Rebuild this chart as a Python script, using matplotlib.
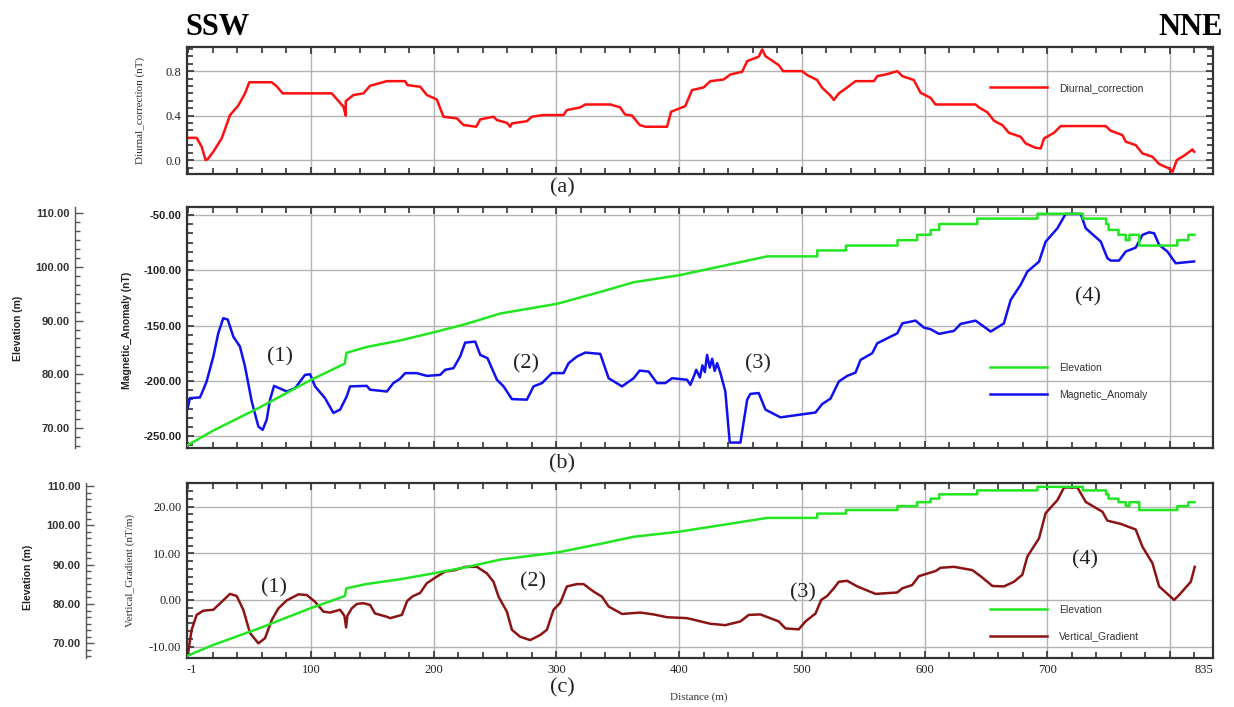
import matplotlib.pyplot as plt
from matplotlib.ticker import MultipleLocator, AutoMinorLocator, FixedLocator

SERIF = 'Liberation Serif'
SANS = 'Liberation Sans'

# distance axis
dist_ticks = [-1, 100, 200, 300, 400, 500, 600, 700, 800, 835]
dist_labels = ['-1', '100', '200', '300', '400', '500', '600', '700', '', '835']

# (a) diurnal correction (nT)
diurnal_dist = [-1, 6.9, 11, 14.2, 16, 20.5, 27.3, 34.1, 40.8, 46.3, 49.8, 68, 72, 77, 117,
                126.5, 128.4, 128.4, 134.6, 142.8, 148.2, 161.9, 176.8, 178.7, 189, 194.5,
                202.6, 208, 219, 224.4, 234.7, 238, 248.8, 251.6, 259.7, 262.4, 263.8, 276,
                280, 289.6, 305.9, 308.6, 319.5, 323.6, 344, 352, 356, 361.7, 367.9, 372.5,
                390.2, 393.5, 405, 410.6, 420, 425.5, 436.4, 441.8, 451.4, 455.5, 464.9,
                467.7, 470.4, 481.2, 484.8, 500.3, 504.4, 512.5, 516.6, 523.4, 526.1, 530.2,
                537, 543.8, 558.7, 561.5, 569.6, 577.8, 581.9, 591.3, 596.8, 604.9, 609,
                641.6, 644.3, 651.2, 656.6, 663.4, 668.8, 678.3, 682.4, 690.6, 694.7, 697.4,
                705.5, 711, 747.7, 751.7, 761.3, 764, 772.1, 777.6, 785.7, 791.2, 799.3,
                802.1, 805.6, 811.5, 818.4, 819.7]
diurnal_val = [0.2, 0.2, 0.12, 0.0, 0.01, 0.075, 0.195, 0.405, 0.49, 0.6, 0.7, 0.7, 0.665, 0.6, 0.6,
               0.48, 0.40, 0.53, 0.585, 0.6, 0.668, 0.71, 0.71, 0.674, 0.66, 0.585,
               0.545, 0.39, 0.375, 0.315, 0.30, 0.366, 0.39, 0.36, 0.335, 0.30, 0.33, 0.35,
               0.39, 0.405, 0.405, 0.45, 0.474, 0.50, 0.50, 0.474, 0.41, 0.40, 0.315, 0.30,
               0.30, 0.435, 0.485, 0.63, 0.653, 0.71, 0.725, 0.77, 0.794, 0.89, 0.93,
               0.995, 0.935, 0.854, 0.80, 0.80, 0.764, 0.72, 0.65, 0.58, 0.54, 0.60,
               0.653, 0.71, 0.71, 0.755, 0.773, 0.80, 0.755, 0.72, 0.605, 0.56, 0.50,
               0.50, 0.474, 0.43, 0.354, 0.315, 0.245, 0.21, 0.15, 0.11, 0.105, 0.195,
               0.245, 0.306, 0.306, 0.264, 0.225, 0.165, 0.135, 0.06, 0.03, -0.036, -0.075,
               -0.105, 0.0, 0.04, 0.096, 0.075]

# elevation (m), shared by (b) and (c)
elev_dist = [-1, 20.5, 58.5, 99.3, 127.5, 129, 145.5, 172.7, 199.9, 227.1, 254.3, 300.5,
             335.8, 363, 400.2, 431, 471.8, 512.6, 512.6, 536, 536, 578, 578, 594, 594,
             605, 605, 612, 612, 643, 643, 692, 692, 729, 729, 748, 748, 750, 750, 758,
             758, 764, 764, 767, 767, 775, 775, 806, 806, 815, 815, 820]
elev_val = [66.8, 69.6, 73.9, 78.9, 82.0, 84.0, 85.1, 86.3, 87.8, 89.4, 91.3, 93.1,
            95.3, 97.1, 98.4, 99.9, 101.9, 101.9, 103.0, 103.0, 103.9, 103.9, 104.9, 104.9, 105.9,
            105.9, 106.8, 106.8, 107.9, 107.9, 108.9, 108.9, 109.8, 109.8, 108.9, 108.9, 107.9,
            107.9, 106.8, 106.8, 105.9, 105.9, 104.9, 104.9, 105.9, 105.9, 103.9, 103.9, 104.9,
            104.9, 105.9, 105.9]

# (b) magnetic anomaly (nT)
mag_dist = [-0.4, 1.4, 9.6, 12.3, 15, 20.5, 24.5, 28.6, 32.2, 36.8, 42.2, 46.3, 51.8, 57.2,
            60.7, 64, 66.7, 70, 74.3, 80.3, 87.1, 95.2, 99.3, 103.4, 111.5, 118.3, 123.8,
            129.2, 131.9, 145.5, 148.2, 161.9, 167.2, 172.7, 176.8, 186.3, 194.5, 205.3,
            209.4, 216.2, 221.6, 225.7, 233.9, 238, 243.9, 251.6, 257, 263.8, 276, 281.4,
            288.3, 296.4, 305.9, 310, 316.8, 323.6, 335.8, 342.6, 353.5, 363, 367.9, 375.2,
            382, 388.8, 394.3, 406.5, 409.2, 412, 414, 417, 419, 421, 422.8, 425, 427, 429,
            431, 433.7, 437.7, 441.3, 450, 455.5, 458.1, 464.9, 470.4, 482.6, 511.2, 516.6,
            523.4, 530.2, 537, 543.8, 547.9, 557.4, 561.5, 577.8, 581.9, 592.7, 599.5, 605,
            611.8, 624, 629.4, 641.6, 653.9, 664.7, 670.2, 678.3, 683.8, 693.3, 698.7, 708.3,
            715, 727.3, 731.4, 743.6, 749, 751.7, 758.5, 764, 772.1, 777.6, 783, 787.1, 791.2,
            797.9, 804.7, 819.7]
mag_val = [-224.7, -215.6, -215, -208, -200.6, -178, -157, -143.3, -144.5, -160, -169, -187,
           -218.7, -241.3, -244.3, -235, -217, -204.5, -206.6, -209.6, -206.6, -194.6, -194,
           -205, -215.6, -229, -226, -214, -205, -204.5, -208, -209.6, -202, -198, -193, -193,
           -195.5, -194.6, -190, -188.5, -178, -165.4, -164.5, -176.5, -179.5, -199, -205,
           -216.5, -217, -205, -202, -193, -193, -184, -178, -174.4, -175.6, -197.6, -205,
           -197.6, -190.7, -191.6, -202, -202, -197.6, -199, -203.6, -196, -190, -197,
           -186, -192, -176.5, -188, -180, -191, -184, -193, -209.6, -255.8, -255.8, -217,
           -211.8, -211, -226, -233, -228.6, -221, -216, -200.6, -195.5, -192.5, -181, -175,
           -166, -157, -148, -145.5, -151.8, -153.3, -157.5, -154.8, -148.5, -145.5, -155.4,
           -148, -126.8, -113.2, -101.2, -92.2, -74.1, -62, -49, -49, -62, -74, -89, -91.2,
           -91.2, -83, -79.5, -68, -65.6, -66.5, -77, -83, -93.6, -92]

# (c) vertical gradient (nT/m)
vg_dist = [0.1, 2.8, 6.9, 12.3, 20.5, 27.3, 34.1, 39.5, 44.9, 50.4, 57.2, 62.6, 68.1, 73.5,
           80.3, 89.8, 96.6, 103.4, 110.2, 115.6, 123.8, 127.3, 128.7, 129.7, 133.3, 137.4,
           142.8, 148.2, 152.3, 161.9, 164.6, 174.1, 178.5, 183, 189, 194.5, 202.6, 209.4,
           217.6, 225.7, 235.3, 243.4, 248.8, 252.9, 259.7, 263.8, 270.6, 278.7, 286.9,
           292.3, 297.7, 303.2, 308.6, 316.8, 322.2, 330.3, 337.2, 342.6, 353.5, 368.4,
           379.3, 390.2, 406.5, 425.5, 437.7, 450, 456.8, 466.3, 481.2, 486.7, 497.5, 503,
           511.2, 515.8, 520.7, 526.1, 530.2, 537, 545.2, 560.1, 577.8, 581.9, 590, 595.4,
           609, 613.1, 624, 638.9, 645.7, 655.3, 664.7, 672.9, 679.7, 683.8, 693.3, 698.7,
           708.3, 713.7, 724.6, 731.4, 745, 749, 759.9, 772.1, 777.6, 785.7, 791.2, 803.4,
           807.5, 817, 820.2]
vg_val = [-11.1, -6.4, -3.2, -2.3, -2.1, -0.4, 1.3, 0.86, -2.1, -7.1, -9.3, -8.2, -4.3, -1.8,
          -0.1, 1.2, 1.07, -0.4, -2.5, -2.7, -2.1, -3.4, -5.9, -3.4, -1.8, -0.86,
          -0.7, -1.07, -2.9, -3.6, -3.9, -3.2, -0.2, 0.8, 1.5, 3.6, 5.0, 6.1,
          6.4, 7.1, 7.1, 5.7, 3.9, 0.7, -2.5, -6.4, -7.9, -8.6, -7.5,
          -6.4, -2.1, -0.6, 2.9, 3.4, 3.4, 1.8, 0.7, -1.4, -3.0, -2.7,
          -3.1, -3.7, -3.9, -5.1, -5.4, -4.6, -3.2, -3.1, -4.6, -6.1, -6.3, -4.6,
          -2.9, 0.0, 0.86, 2.5, 3.9, 4.1, 2.9, 1.3, 1.6, 2.5, 3.2, 5.1,
          6.2, 6.9, 7.1, 6.4, 5.1, 3.0, 2.9, 3.9, 5.4, 9.3, 13.2, 18.6,
          21.4, 24.1, 24.1, 21.0, 18.9, 17.0, 16.3, 15.1, 11.4, 7.9, 2.9, 0.0,
          1.07, 3.9, 7.1]

# numbered anomaly zones
zone_labels = ['(1)', '(2)', '(3)', '(4)']
zone_dist_b = [75, 275, 464, 733]
zone_val_b = [-178, -185, -185, -124]
zone_dist_c = [70, 281, 501, 731]
zone_val_c = [2.7, 3.8, 1.6, 8.6]

RED = '#ff1010'
BLUE = '#1010f0'
GREEN = '#22e622'
MAROON = '#8b1515'
FRAME = '#333333'
LW = 1.8


def style_main(ax, ylim, yticks, fmt, tick_font, tick_weight, show_x):
    ax.set_xlim(-1, 835)
    ax.set_ylim(*ylim)
    ax.xaxis.set_major_locator(FixedLocator(dist_ticks))
    ax.xaxis.set_minor_locator(MultipleLocator(20))
    ax.set_yticks(yticks)
    ax.set_yticklabels([fmt.format(t) for t in yticks], fontfamily=tick_font,
                       fontweight=tick_weight, fontsize=9 if tick_font == SERIF else 8,
                       color='#222222')
    ax.yaxis.set_minor_locator(AutoMinorLocator(6))
    if show_x:
        ax.set_xticklabels(dist_labels, fontfamily=SERIF, fontsize=9, color='#222222')
        labels = ax.get_xticklabels()
        labels[0].set_ha('left')
        labels[-1].set_ha('right')
    else:
        ax.set_xticklabels([])
    ax.tick_params(which='both', direction='in', top=True, right=True, color=FRAME)
    ax.tick_params(which='major', length=5, width=1.2)
    ax.tick_params(which='minor', length=4, width=1.2)
    ax.tick_params(axis='y', pad=4)
    ax.tick_params(axis='x', pad=4)
    ax.grid(True, which='major', color='#b4b4b4', linewidth=1.0)
    ax.set_axisbelow(True)
    for sp in ax.spines.values():
        sp.set_color(FRAME)
        sp.set_linewidth(1.6)


def elevation_axis(ax, ylim, offset):
    ax2 = ax.twinx()
    ax2.yaxis.tick_left()
    ax2.spines['left'].set_position(('outward', offset))
    for side in ['right', 'top', 'bottom']:
        ax2.spines[side].set_visible(False)
    ax2.spines['left'].set_color('#555555')
    ax2.spines['left'].set_linewidth(1.0)
    ax2.set_ylim(*ylim)
    ticks = [70, 80, 90, 100, 110]
    ax2.set_yticks(ticks)
    ax2.set_yticklabels(['{:.2f}'.format(t) for t in ticks], fontfamily=SANS,
                        fontweight='bold', fontsize=8, color='#333333')
    ax2.yaxis.set_minor_locator(AutoMinorLocator(6))
    ax2.tick_params(which='both', direction='in', color='#555555', pad=4)
    ax2.tick_params(which='major', length=6, width=1.0)
    ax2.tick_params(which='minor', length=3.5, width=1.0)
    return ax2


def add_legend(ax, handles, labels, ypos):
    ax.legend(handles, labels, loc='center left', bbox_to_anchor=(0.7827, ypos),
              frameon=False, borderpad=0, borderaxespad=0, handlelength=5.5,
              handletextpad=1.1, labelspacing=1.6,
              prop={'family': SANS, 'size': 7.5}, labelcolor='#333333')


fig = plt.figure(figsize=(12.34, 7.07), dpi=100)

# (a) diurnal correction
ax_a = fig.add_axes([0.1515, 0.7539, 0.8314, 0.1801])
line_a, = ax_a.plot(diurnal_dist, diurnal_val, color=RED, lw=LW)
style_main(ax_a, (-0.125, 1.02), [0.0, 0.4, 0.8], '{:.1f}', SERIF, 'normal', False)
add_legend(ax_a, [line_a], ['Diurnal_correction'], 0.6756)
fig.text(140 / 1234, 1 - 110 / 707, 'Diurnal_correction (nT)', rotation=90, ha='center',
         va='center', fontfamily=SERIF, fontsize=8, color='#333333')

# (b) magnetic anomaly with elevation
ax_b = fig.add_axes([0.1515, 0.3659, 0.8314, 0.3409])
style_main(ax_b, (-261, -43), [-250, -200, -150, -100, -50], '{:.2f}', SANS, 'bold', False)
line_b, = ax_b.plot(mag_dist, mag_val, color=BLUE, lw=LW)
ax_be = elevation_axis(ax_b, (66.3, 111), 80.6)
elev_b, = ax_be.plot(elev_dist, elev_val, color=GREEN, lw=LW)
add_legend(ax_be, [elev_b, line_b], ['Elevation', 'Magnetic_Anomaly'], 0.2776)
for lab, d, v in zip(zone_labels, zone_dist_b, zone_val_b):
    ax_b.text(d, v, lab, ha='center', va='center', fontfamily=SERIF, fontsize=16,
              color='#222222')
fig.text(127 / 1234, 1 - 330 / 707, 'Magnetic_Anomaly (nT)', rotation=90, ha='center',
         va='center', fontfamily=SANS, fontweight='bold', fontsize=7.5, color='#222222')
fig.text(18 / 1234, 1 - 328 / 707, 'Elevation (m)', rotation=90, ha='center', va='center',
         fontfamily=SANS, fontweight='bold', fontsize=7.5, color='#222222')

# (c) vertical gradient with elevation
ax_c = fig.add_axes([0.1515, 0.0689, 0.8314, 0.2475])
style_main(ax_c, (-12.5, 25), [-10, 0, 10, 20], '{:.2f}', SERIF, 'normal', True)
line_c, = ax_c.plot(vg_dist, vg_val, color=MAROON, lw=LW)
ax_ce = elevation_axis(ax_c, (66.2, 110.7), 72.7)
elev_c, = ax_ce.plot(elev_dist, elev_val, color=GREEN, lw=LW)
add_legend(ax_ce, [elev_c, line_c], ['Elevation', 'Vertical_Gradient'], 0.2)
for lab, d, v in zip(zone_labels, zone_dist_c, zone_val_c):
    ax_c.text(d, v, lab, ha='center', va='center', fontfamily=SERIF, fontsize=16,
              color='#222222')
fig.text(130 / 1234, 1 - 570 / 707, 'Vertical_Gradient (nT/m)', rotation=90, ha='center',
         va='center', fontfamily=SERIF, fontsize=8, color='#333333')
fig.text(28 / 1234, 1 - 577 / 707, 'Elevation (m)', rotation=90, ha='center', va='center',
         fontfamily=SANS, fontweight='bold', fontsize=7.5, color='#222222')

# panel letters, axis title and profile direction
for lab, y in zip(['(a)', '(b)', '(c)'], [188, 464, 688]):
    fig.text(562 / 1234, 1 - y / 707, lab, ha='center', va='center', fontfamily=SERIF,
             fontsize=16, color='#222222')
fig.text(699 / 1234, 1 - 697 / 707, 'Distance (m)', ha='center', va='center',
         fontfamily=SERIF, fontsize=8, color='#333333')
fig.text(185 / 1234, 1 - 35 / 707, 'SSW', ha='left', va='baseline', fontfamily=SERIF,
         fontweight='bold', fontsize=22, color='black')
fig.text(1223 / 1234, 1 - 35 / 707, 'NNE', ha='right', va='baseline', fontfamily=SERIF,
         fontweight='bold', fontsize=22, color='black')

fig.savefig('out.png', dpi=100, facecolor='white')
